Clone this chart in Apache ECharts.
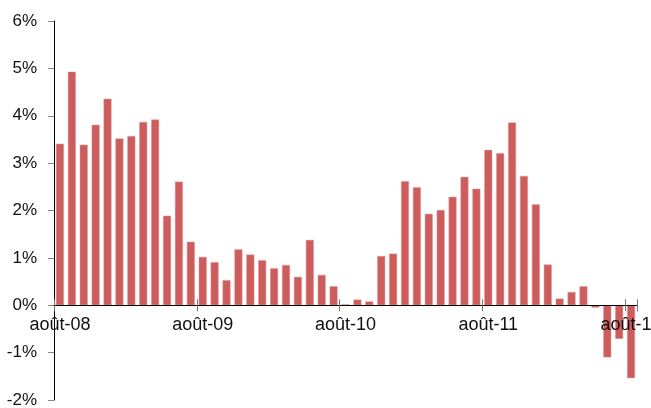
<!DOCTYPE html>
<html>
<head>
<meta charset="utf-8">
<script src="https://cdn.jsdelivr.net/npm/echarts@6/dist/echarts.min.js"></script>
<style>
html,body{margin:0;padding:0;background:#fff;}
#c{width:651px;height:408px;}
</style>
</head>
<body>
<div id="c"></div>
<script>
var months = ['août','sept','oct','nov','déc','janv','févr','mars','avr','mai','juin','juil'];
var categories = [];
for (var y = 8; y <= 12; y++) {
  for (var m = 0; m < 12; m++) {
    if (y === 12 && m > 0) break;
    var yy = (m < 5) ? y : y + 1;
    categories.push(months[m] + '-' + (yy < 10 ? '0' + yy : '' + yy));
  }
}
var values = [3.41, 4.93, 3.39, 3.81, 4.36, 3.52, 3.57, 3.87, 3.92, 1.89, 2.61, 1.34,
              1.02, 0.91, 0.53, 1.18, 1.07, 0.95, 0.78, 0.85, 0.60, 1.38, 0.64, 0.40,
              0.02, 0.12, 0.08, 1.04, 1.09, 2.62, 2.49, 1.93, 2.01, 2.29, 2.71, 2.46,
              3.28, 3.21, 3.86, 2.73, 2.13, 0.86, 0.14, 0.28, 0.40, -0.05, -1.10, -0.71,
              -1.54];
var yTicks = [-2, -1, 0, 1, 2, 3, 4, 5, 6];

var chart = echarts.init(document.getElementById('c'), null, {renderer: 'canvas'});
var font = 'Liberation Sans, Arial, sans-serif';
function xAxes(off) {
  return [{
    type: 'category',
    data: categories,
    position: 'bottom',
    offset: off,
    z: 5,
    boundaryGap: true,
    axisLine: {onZero: false, lineStyle: {color: '#000', width: 1}},
    axisTick: {show: true, interval: 11, alignWithLabel: false, length: 6, lineStyle: {color: '#777'}},
    axisLabel: {
      interval: 11, margin: 11, color: '#111', fontSize: 18, fontFamily: font,
      formatter: function (v, i) { return categories[i]; }
    },
    splitLine: {show: false}
  }, {
    type: 'category',
    data: categories,
    position: 'bottom',
    offset: off,
    z: 5,
    boundaryGap: true,
    axisLine: {show: false, onZero: false},
    axisTick: {show: true, inside: true, interval: 11, alignWithLabel: false, length: 6, lineStyle: {color: '#777'}},
    axisLabel: {show: false},
    splitLine: {show: false}
  }];
}
chart.setOption({
  animation: false,
  backgroundColor: '#ffffff',
  grid: {left: 54, right: 14, top: 21, bottom: 8, containLabel: false, outerBoundsMode: 'none'},
  xAxis: xAxes(0),
  yAxis: {
    type: 'value',
    min: yTicks[0],
    max: yTicks[yTicks.length - 1],
    interval: 1,
    axisLine: {show: true, onZero: false, lineStyle: {color: '#000', width: 1}},
    axisTick: {show: true, length: 6, lineStyle: {color: '#888'}},
    axisLabel: {margin: 17, color: '#111', fontSize: 17, fontFamily: font,
      formatter: function (v) { return v + '%'; }},
    splitLine: {show: false}
  },
  series: [{
    type: 'bar',
    xAxisIndex: 0,
    data: values,
    barCategoryGap: '33%',
    itemStyle: {color: '#CD5C5C', borderColor: '#E49A9A', borderWidth: 0.5}
  }]
});
var zeroY = chart.convertToPixel({yAxisIndex: 0}, 0);
var bottomY = chart.convertToPixel({yAxisIndex: 0}, yTicks[0]);
chart.setOption({xAxis: xAxes(zeroY - bottomY)});
</script>
</body>
</html>
